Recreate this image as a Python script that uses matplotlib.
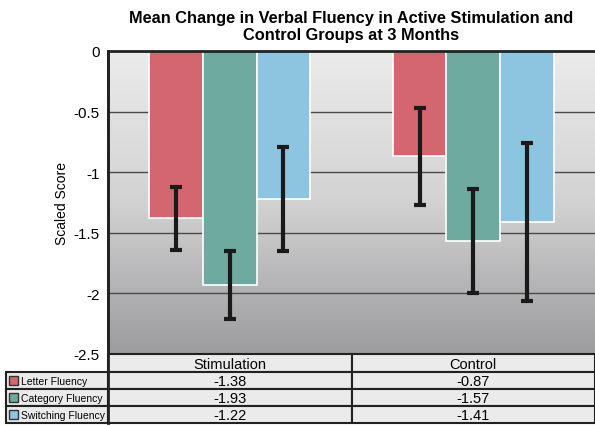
import numpy as np
import matplotlib
matplotlib.use("Agg")
import matplotlib.pyplot as plt
from matplotlib.patches import Rectangle

# data
groups = ["Stimulation", "Control"]
measures = ["Letter Fluency", "Category Fluency", "Switching Fluency"]
letter = [-1.38, -0.87]
category = [-1.93, -1.57]
switching = [-1.22, -1.41]
letter_err = [0.26, 0.40]
category_err = [0.28, 0.43]
switching_err = [0.43, 0.65]
yticks = [0, -0.5, -1, -1.5, -2, -2.5]
ytick_labels = ["0", "-0.5", "-1", "-1.5", "-2", "-2.5"]

colors = ["#d4666f", "#6eaaa0", "#8dc4e0"]
edge_dark = "#222222"

plt.rcParams["font.family"] = ["Liberation Sans", "DejaVu Sans"]

W, H = 595, 427
fig = plt.figure(figsize=(W / 100, H / 100), dpi=100)

# plot area in pixels
x0, x1, y_top, y_bot = 108, 595, 52, 355
ax = fig.add_axes([x0 / W, 1 - y_bot / H, (x1 - x0) / W, (y_bot - y_top) / H])
ax.set_xlim(-0.5, 1.5)
ax.set_ylim(-2.5, 0)

# gradient background
grad = np.linspace(0, 1, 256).reshape(-1, 1)
cmap = matplotlib.colors.LinearSegmentedColormap.from_list("bg", ["#ebebeb", "#d2d2d3", "#9c9c9e"])
ax.imshow(grad, extent=(-0.5, 1.5, -2.5, 0), aspect="auto", cmap=cmap, zorder=0, origin="upper")

for yv in yticks[1:-1]:
    ax.axhline(yv, color="#4a4a4a", lw=1.0, zorder=1)

x = np.arange(len(groups))
bw = 0.22
series = [letter, category, switching]
errs = [letter_err, category_err, switching_err]
for i, (vals, err) in enumerate(zip(series, errs)):
    xs = x + (i - 1) * bw
    ax.bar(xs, vals, width=bw, color=colors[i], edgecolor="white", linewidth=1.2, zorder=2)
    ax.errorbar(xs, vals, yerr=err, fmt="none", ecolor="#1a1a1a", elinewidth=3,
                capsize=4.5, capthick=3, zorder=3)

ax.set_yticks(yticks)
ax.set_yticklabels(ytick_labels, fontsize=11)
ax.tick_params(axis="y", length=0, pad=6)
ax.set_xticks([])
for s in ["right", "bottom"]:
    ax.spines[s].set_visible(False)
ax.spines["left"].set_linewidth(2)
ax.spines["left"].set_color(edge_dark)
ax.spines["top"].set_linewidth(2)
ax.spines["top"].set_color(edge_dark)
ax.set_ylabel("Scaled Score", fontsize=10, labelpad=3)

fig.text((x0 + x1) / 2 / W, 1 - 27 / H,
         "Mean Change in Verbal Fluency in Active Stimulation and\nControl Groups at 3 Months",
         ha="center", va="center", fontsize=11.8, fontweight="bold", linespacing=1.2)

# table underneath, drawn in pixel coordinates
tax = fig.add_axes([0, 0, 1, 1])
tax.set_xlim(0, W)
tax.set_ylim(H, 0)
tax.axis("off")
cell_bg = "#ebebeb"
row_y = [355, 373, 390, 407, 424]
col_x = [6, x0, (x0 + x1) / 2, x1]

# header row
for j, g in enumerate(groups):
    tax.add_patch(Rectangle((col_x[j + 1], row_y[0]), col_x[j + 2] - col_x[j + 1], row_y[1] - row_y[0],
                            facecolor=cell_bg, edgecolor=edge_dark, lw=1.5))
    tax.text((col_x[j + 1] + col_x[j + 2]) / 2, (row_y[0] + row_y[1]) / 2 + 1, g,
             ha="center", va="center", fontsize=10.5)

values = [letter, category, switching]
for r, name in enumerate(measures):
    ya, yb = row_y[r + 1], row_y[r + 2]
    for c in range(3):
        tax.add_patch(Rectangle((col_x[c], ya), col_x[c + 1] - col_x[c], yb - ya,
                                facecolor=cell_bg, edgecolor=edge_dark, lw=1.5))
    tax.add_patch(Rectangle((col_x[0] + 3, ya + 4), 9, 9, facecolor=colors[r],
                            edgecolor="#333333", lw=1))
    tax.text(col_x[0] + 15, (ya + yb) / 2 + 1, name, ha="left", va="center", fontsize=7.5)
    for j in range(len(groups)):
        tax.text((col_x[j + 1] + col_x[j + 2]) / 2, (ya + yb) / 2 + 1, "%.2f" % values[r][j],
                 ha="center", va="center", fontsize=10.5)

# left border line down through the table
tax.plot([x0, x0], [y_top, row_y[-1]], color=edge_dark, lw=2)

fig.savefig("out.png", dpi=100, facecolor="white")
